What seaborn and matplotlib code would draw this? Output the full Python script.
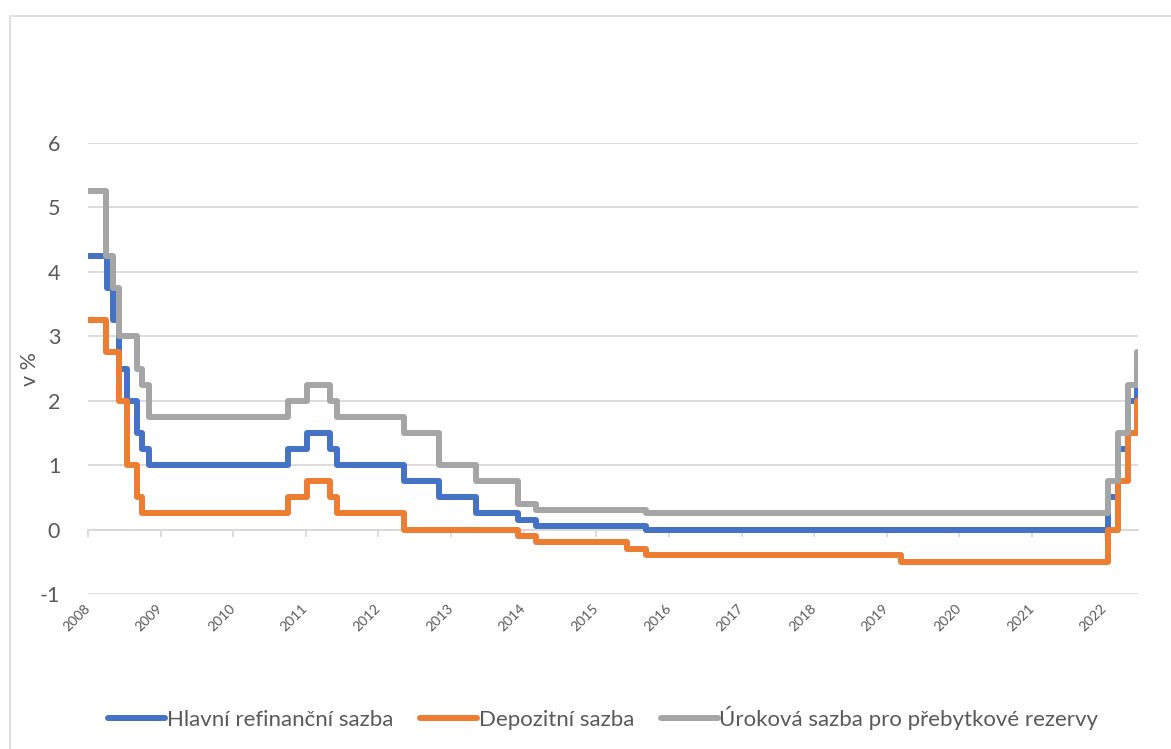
import numpy as np
import pandas as pd
import seaborn as sns
import matplotlib.pyplot as plt
from matplotlib.patches import Rectangle

# data: dates at which each rate changed, value in % valid from that date
refi_dates = ["2008-07-09", "2008-10-15", "2008-11-12", "2008-12-10", "2009-01-21",
              "2009-03-11", "2009-04-08", "2009-05-13", "2011-04-13", "2011-07-13",
              "2011-11-09", "2011-12-14", "2012-11-14", "2013-05-08", "2013-11-13",
              "2014-06-11", "2014-09-10", "2016-03-16", "2022-07-27", "2022-09-14",
              "2022-11-02", "2022-12-21"]
refi_values = [4.25, 3.75, 3.25, 2.50, 2.00, 1.50, 1.25, 1.00, 1.25, 1.50,
               1.25, 1.00, 0.75, 0.50, 0.25, 0.15, 0.05, 0.00, 0.50, 1.25,
               2.00, 2.50]

depo_dates = ["2008-07-09", "2008-10-08", "2008-12-10", "2009-01-21", "2009-03-11",
              "2009-04-08", "2011-04-13", "2011-07-13", "2011-11-09", "2011-12-14",
              "2012-11-14", "2014-06-11", "2014-09-10", "2015-12-09", "2016-03-16",
              "2019-09-18", "2022-07-27", "2022-09-14", "2022-11-02", "2022-12-21"]
depo_values = [3.25, 2.75, 2.00, 1.00, 0.50, 0.25, 0.50, 0.75, 0.50, 0.25,
               0.00, -0.10, -0.20, -0.30, -0.40, -0.50, 0.00, 0.75, 1.50, 2.00]

rez_dates = ["2008-07-09", "2008-10-09", "2008-11-12", "2008-12-10", "2009-03-11",
             "2009-04-08", "2009-05-13", "2011-04-13", "2011-07-13", "2011-11-09",
             "2011-12-14", "2012-11-14", "2013-05-08", "2013-11-13", "2014-06-11",
             "2014-09-10", "2016-03-16", "2022-07-27", "2022-09-14", "2022-11-02",
             "2022-12-21"]
rez_values = [5.25, 4.25, 3.75, 3.00, 2.50, 2.25, 1.75, 2.00, 2.25, 2.00,
              1.75, 1.50, 1.00, 0.75, 0.40, 0.30, 0.25, 0.75, 1.50, 2.25,
              2.75]

names = ["Hlavní refinanční sazba", "Depozitní sazba", "Úroková sazba pro přebytkové rezervy"]
colors = ["#4472C4", "#ED7D31", "#A5A5A5"]
years = list(range(2008, 2023))

df = pd.concat([
    pd.DataFrame({"datum": pd.to_datetime(d), "sazba": v, "serie": n})
    for d, v, n in zip([refi_dates, depo_dates, rez_dates],
                       [refi_values, depo_values, rez_values], names)
], ignore_index=True)

sns.set_theme(style="white")
plt.rcParams["font.family"] = ["Lato", "DejaVu Sans"]
plt.rcParams["axes.unicode_minus"] = False
grid_c = "#D9D9D9"
text_c = "#595959"

fig = plt.figure(figsize=(11.71, 7.49), dpi=100)
ax = fig.add_axes([88 / 1171, 155 / 749, 1050 / 1171, 451 / 749])

sns.lineplot(data=df, x="datum", y="sazba", hue="serie", hue_order=names,
             palette=colors, drawstyle="steps-post", estimator=None,
             linewidth=4.3, solid_joinstyle="round", legend=False, ax=ax)

ax.set_ylim(-1, 6)
ax.set_yticks(range(-1, 7))
ax.set_xlim(pd.Timestamp("2008-07-09"), pd.Timestamp("2022-12-24"))
ax.yaxis.grid(True, color=grid_c, linewidth=1.3)
ax.set_axisbelow(True)
for s in ax.spines.values():
    s.set_visible(False)

ax.tick_params(axis="y", length=0, pad=20, labelsize=15.5, labelcolor=text_c)
ax.set_ylabel("v %", fontsize=15.5, color=text_c)
ax.yaxis.set_label_coords(-0.046, 0.5)
ax.set_xlabel("")

tick_dates = pd.to_datetime([f"{y}-07-09" for y in years])
ax.set_xticks(tick_dates)
ax.set_xticklabels([str(y) for y in years], rotation=45, ha="right", va="center",
                   rotation_mode="anchor", fontsize=10, color=text_c)
ax.tick_params(axis="x", length=0, pad=9)

# tick marks sit on the zero line
sec = ax.secondary_xaxis(1 / 7)
sec.set_xticks(ax.get_xticks())
sec.tick_params(axis="x", length=5, width=1.3, color=grid_c, labelbottom=False)
sec.spines["bottom"].set_color(grid_c)
sec.spines["bottom"].set_linewidth(1.3)

fig.legend(handles=ax.get_lines()[:3], labels=names, loc="center",
           bbox_to_anchor=(0.515, 1 - 718 / 749), ncol=3, frameon=False,
           fontsize=16, labelcolor=text_c, handlelength=2.6, handletextpad=0.05,
           columnspacing=1.2)

fig.patches.append(Rectangle((10 / 1171, -0.1), 1.2, 1.1 - 16 / 749,
                             transform=fig.transFigure, fill=False,
                             edgecolor=grid_c, linewidth=1.2))

fig.savefig("out.png", dpi=100)
